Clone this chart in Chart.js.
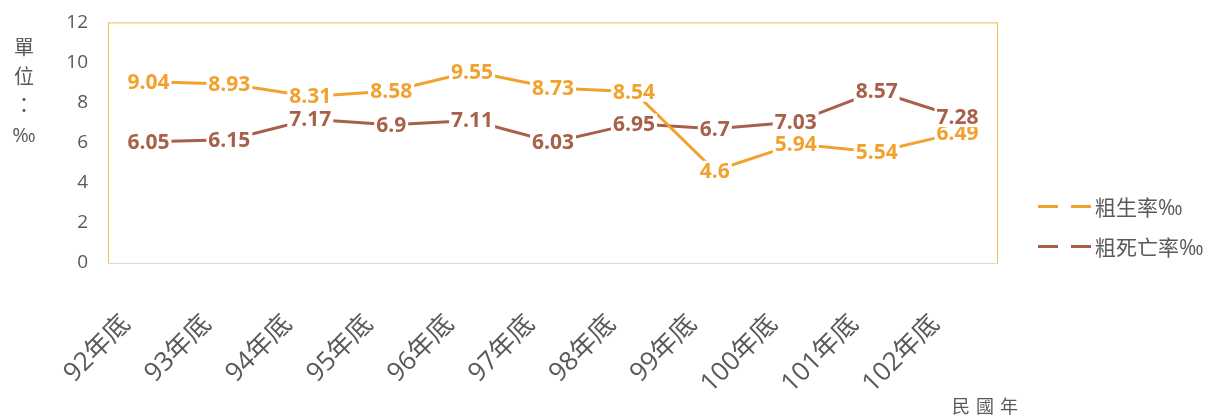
<!DOCTYPE html>
<html>
<head>
<meta charset="utf-8">
<script src="https://cdn.jsdelivr.net/npm/chart.js@4.4.0/dist/chart.umd.min.js"></script>
<style>
  body { margin: 0; background: #fff; overflow: hidden; }
  #wrap { position: relative; width: 1228px; height: 418px; overflow: hidden; font-family: "Open Sans", "Noto Sans CJK TC", sans-serif; color: #595959; }
  #grafico { position: absolute; left: 0; top: -9px; }
  .ytitle { position: absolute; left: 11px; top: 33px; width: 26px; font-size: 20px; line-height: 29px; text-align: center; }
  .xtitle { position: absolute; left: 952px; top: 392px; font-size: 18px; letter-spacing: 6px; font-family: "Noto Sans CJK TC", sans-serif; }
  .leyenda { position: absolute; left: 1038px; font-size: 21px; display: flex; align-items: center; }
  .raya { display: inline-block; width: 20px; height: 3px; margin-right: 13px; }
</style>
</head>
<body>
<div id="wrap">
  <canvas id="grafico" width="1228" height="427"></canvas>
  <div class="ytitle">單<br>位<br>：<br>‰</div>
  <div class="leyenda" style="top:191px"><span class="raya" style="background:#F2A12E"></span><span class="raya" style="background:#F2A12E;margin-right:4px"></span>粗生率‰</div>
  <div class="leyenda" style="top:231px"><span class="raya" style="background:#A9604A"></span><span class="raya" style="background:#A9604A;margin-right:4px"></span>粗死亡率‰</div>
  <div class="xtitle">民國年</div>
</div>
<script>
const categorias = ['92年底', '93年底', '94年底', '95年底', '96年底', '97年底', '98年底', '99年底', '100年底', '101年底', '102年底']
const tasaNatalidad = [9.04, 8.93, 8.31, 8.58, 9.55, 8.73, 8.54, 4.6, 5.94, 5.54, 6.49]
const tasaMortalidad = [6.05, 6.15, 7.17, 6.9, 7.11, 6.03, 6.95, 6.7, 7.03, 8.57, 7.28]
const ticksY = [0, 2, 4, 6, 8, 10, 12]

const colorNatalidad = '#F2A12E'
const colorMortalidad = '#A9604A'

// borde naranja del area del grafico
const bordeArea = {
    id: 'bordeArea',
    beforeDatasetsDraw(chart) {
        const { ctx, chartArea: a } = chart
        ctx.save()
        ctx.strokeStyle = '#F5B85A'
        ctx.lineWidth = 1
        ctx.strokeRect(a.left + 0.5, a.top + 0.5, a.right - a.left - 1, a.bottom - a.top)
        ctx.strokeStyle = '#D9D9D9'
        ctx.beginPath()
        ctx.moveTo(a.left, a.bottom + 0.5)
        ctx.lineTo(a.right, a.bottom + 0.5)
        ctx.stroke()
        ctx.restore()
    }
}

// etiquetas de valores con fondo blanco
const etiquetas = {
    id: 'etiquetas',
    afterDatasetsDraw(chart) {
        const { ctx } = chart
        ctx.save()
        ctx.font = 'bold 21px "Open Sans", sans-serif'
        ctx.textAlign = 'center'
        ctx.textBaseline = 'middle'
        chart.data.datasets.forEach((ds, i) => {
            chart.getDatasetMeta(i).data.forEach((p, j) => {
                const txt = String(ds.data[j])
                const w = ctx.measureText(txt).width
                ctx.fillStyle = '#fff'
                ctx.fillRect(p.x - w / 2 - 2, p.y - 10, w + 4, 20)
                ctx.fillStyle = ds.borderColor
                ctx.fillText(txt, p.x, p.y + 1)
            })
        })
        ctx.restore()
    }
}

const ctx = document.getElementById('grafico')

new Chart(ctx, {
    type: 'line',
    data: {
        labels: categorias,
        datasets: [
            { label: '粗生率‰', data: tasaNatalidad, borderColor: colorNatalidad, backgroundColor: colorNatalidad },
            { label: '粗死亡率‰', data: tasaMortalidad, borderColor: colorMortalidad, backgroundColor: colorMortalidad }
        ]
    },
    options: {
        responsive: false,
        animation: false,
        layout: { padding: { top: 12, right: 230, left: 0, bottom: 0 } },
        elements: {
            line: { borderWidth: 3, tension: 0 },
            point: { radius: 0 }
        },
        plugins: {
            legend: { display: false },
            tooltip: { enabled: false }
        },
        scales: {
            x: {
                offset: true,
                grid: { display: false, drawTicks: false },
                border: { display: false },
                ticks: {
                    color: '#595959',
                    font: { size: 26, family: '"Open Sans", "Noto Sans CJK TC", sans-serif' },
                    maxRotation: 45,
                    minRotation: 45,
                    padding: 46,
                    labelOffset: -22
                },
                afterFit: (scale) => { scale.height = 155 }
            },
            y: {
                min: 0,
                max: 12,
                afterBuildTicks: (scale) => { scale.ticks = ticksY.map(v => ({ value: v })) },
                grid: { display: false, drawTicks: false },
                border: { display: false },
                ticks: {
                    color: '#595959',
                    font: { size: 19, family: '"Open Sans", sans-serif' },
                    padding: 20
                },
                afterFit: (scale) => { scale.width = 108 }
            }
        }
    },
    plugins: [bordeArea, etiquetas]
})
</script>
</body>
</html>
